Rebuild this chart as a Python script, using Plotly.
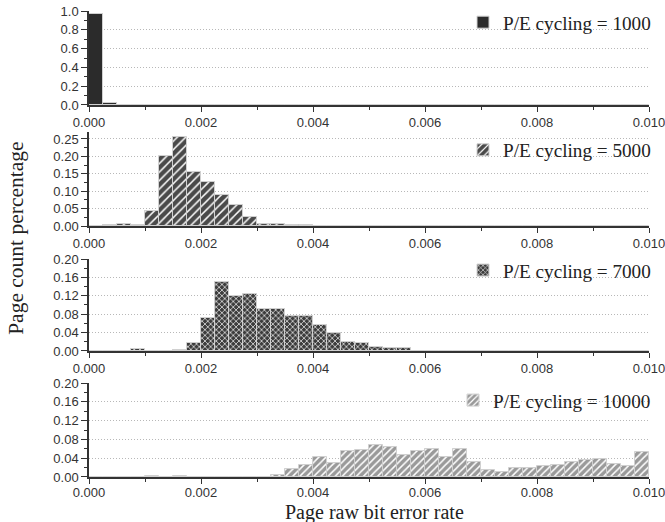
import plotly.graph_objects as go

# ---- data (bins of width 0.00025 from 0 to 0.010) ----
bin_width = 0.00025
n_bins = 40
bin_centers = [bin_width * (i + 0.5) for i in range(n_bins)]

pe1000 = [0.972, 0.022] + [0.0] * 38

pe5000 = [0.0, 0.002, 0.006, 0.003, 0.043, 0.202, 0.255, 0.156, 0.125, 0.090,
          0.060, 0.026, 0.007, 0.007, 0.002, 0.002, 0.001] + [0.0] * 23

pe7000 = [0.0, 0.0, 0.0, 0.004, 0.001, 0.001, 0.003, 0.017, 0.072, 0.149,
          0.120, 0.123, 0.092, 0.092, 0.075, 0.077, 0.057, 0.040, 0.020, 0.017,
          0.009, 0.006, 0.007] + [0.0] * 17

pe10000 = [0.0, 0.0, 0.0, 0.001, 0.002, 0.001, 0.002, 0.001, 0.001, 0.001,
           0.001, 0.001, 0.001, 0.005, 0.016, 0.026, 0.043, 0.030, 0.056, 0.058,
           0.068, 0.063, 0.047, 0.056, 0.059, 0.043, 0.059, 0.032, 0.015, 0.011,
           0.020, 0.020, 0.024, 0.026, 0.032, 0.036, 0.039, 0.027, 0.023, 0.054]

series_names = ["P/E cycling = 1000", "P/E cycling = 5000",
                "P/E cycling = 7000", "P/E cycling = 10000"]
series_values = [pe1000, pe5000, pe7000, pe10000]

x_tick_values = [0.0, 0.002, 0.004, 0.006, 0.008, 0.010]
x_tick_labels = ["0.000", "0.002", "0.004", "0.006", "0.008", "0.010"]

y_ranges = [[0, 1.0], [0, 0.27], [0, 0.2], [0, 0.2]]
y_dticks = [0.2, 0.05, 0.04, 0.04]
y_formats = [".1f", ".2f", ".2f", ".2f"]

# ---- styling ----
patterns = [
    dict(shape=""),
    dict(shape="/", fgcolor="#ffffff", bgcolor="#4a4a4a", size=6, solidity=0.25, fillmode="replace"),
    dict(shape="x", fgcolor="#e6e6e6", bgcolor="#3c3c3c", size=4, solidity=0.35, fillmode="replace"),
    dict(shape="/", fgcolor="#ffffff", bgcolor="#9a9a9a", size=5, solidity=0.3, fillmode="replace"),
]
colors = ["#2b2b2b", "#4a4a4a", "#3c3c3c", "#9a9a9a"]

domains = [[0.7983, 1.0], [0.5386, 0.7403], [0.2704, 0.4678], [0.0, 0.2017]]
legend_y = [0.976, 0.702, 0.444, 0.165]

axis_color = "#333333"
tick_font = dict(family="Liberation Sans, Arial", size=13, color="#333333")
serif = "Liberation Serif, Times New Roman"
legend_font = dict(family=serif, size=19.2, color="#222222")
title_font = dict(family=serif, size=20, color="#222222")

fig = go.Figure()
layout = dict(
    width=665, height=522,
    margin=dict(l=89, r=16, t=11, b=45, autoexpand=False),
    plot_bgcolor="white", paper_bgcolor="white",
    bargap=0, showlegend=True,
)

for i in range(4):
    n = "" if i == 0 else str(i + 1)
    legend_name = "legend" + n
    fig.add_trace(go.Bar(
        x=bin_centers, y=series_values[i], width=bin_width,
        name=series_names[i],
        xaxis="x" + n, yaxis="y" + n,
        legend=legend_name,
        marker=dict(color=colors[i], pattern=patterns[i],
                    line=dict(color="#d0d0d0", width=1)),
    ))
    layout["xaxis" + n] = dict(
        domain=[0, 1], anchor="y" + n, range=[0, 0.01],
        tickmode="array", tickvals=x_tick_values, ticktext=x_tick_labels,
        ticks="outside", ticklen=5, tickwidth=1.3, tickcolor=axis_color,
        showline=True, linecolor=axis_color, linewidth=1.5,
        showgrid=False, zeroline=False, tickfont=tick_font, automargin=False,
        ticklabeloverflow="allow",
        minor=dict(ticks="outside", ticklen=3, dtick=0.001, tick0=0,
                   tickcolor=axis_color, showgrid=False),
    )
    layout["yaxis" + n] = dict(
        domain=domains[i], anchor="x" + n, range=y_ranges[i],
        tickmode="linear", tick0=0, dtick=y_dticks[i], tickformat=y_formats[i],
        ticks="outside", ticklen=6, tickwidth=1.3, tickcolor=axis_color,
        showline=True, linecolor=axis_color, linewidth=1.5,
        showgrid=True, gridcolor="#b8b8b8", griddash="1px,2px", gridwidth=1,
        zeroline=False, tickfont=tick_font, automargin=False,
        ticklabeloverflow="allow",
        minor=dict(ticks="outside", ticklen=3, dtick=y_dticks[i] / 2, tick0=0,
                   tickcolor=axis_color, showgrid=False),
    )
    layout[legend_name] = dict(
        x=1.0125, xanchor="right", y=legend_y[i], yanchor="middle",
        bgcolor="rgba(0,0,0,0)", font=legend_font,
        tracegroupgap=0,
    )

# bottom axis labels sit a little closer to make room for the axis title
layout["xaxis4"]["ticklabelstandoff"] = -2

layout["annotations"] = [
    dict(text="Page count percentage", textangle=-90,
         xref="paper", yref="paper", x=-0.1305, y=0.513,
         xanchor="center", yanchor="middle", showarrow=False,
         font=dict(family=serif, size=21.5, color="#222222")),
    dict(text="Page raw bit error rate",
         xref="paper", yref="paper", x=0.509, y=-0.0755,
         xanchor="center", yanchor="middle", showarrow=False, font=title_font),
]

fig.update_layout(**layout)
fig.write_html("out.html")
